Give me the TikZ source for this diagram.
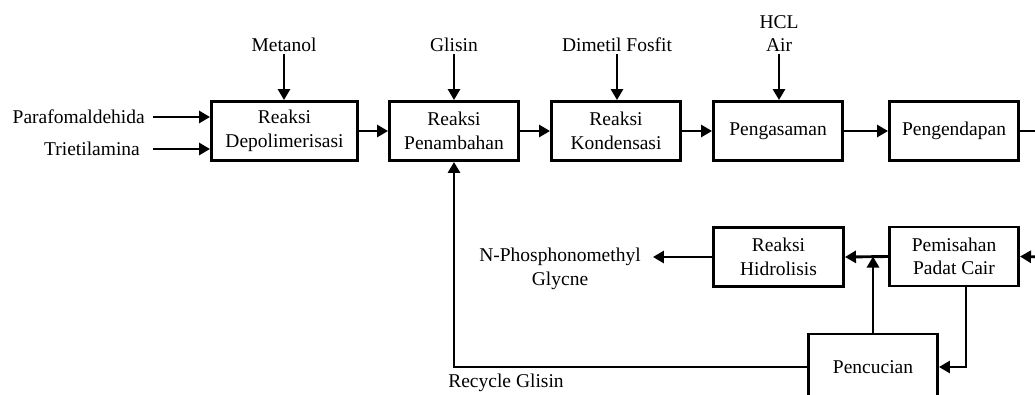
\documentclass[tikz,border=0pt]{standalone}
\usepackage{fontspec}
\setmainfont{Liberation Serif}
\usetikzlibrary{positioning, arrows.meta, calc}

\begin{document}
\begin{tikzpicture}[x=1pt, y=-1pt, font=\fontsize{19.5}{23.5}\selectfont,
  proc/.style={draw=black, line width=2.9pt, minimum width=129pt, minimum height=59pt, align=center, inner sep=2pt},
  arr/.style={-{Triangle[length=11pt, width=12pt]}, line width=2.9pt},
  ln/.style={line width=2.9pt},
  lbl/.style={align=center, inner sep=2pt}
]
  \useasboundingbox (0,0) rectangle (1035,394);

  % main line
  \node[proc, minimum width=146pt] (dep) at (284.5,131) {Reaksi\\Depolimerisasi};
  \node[proc] (pen) at (454,131) {Reaksi\\Penambahan};
  \node[proc] (kon) at (616,131) {Reaksi\\Kondensasi};
  \node[proc] (asam) at (778,131) {Pengasaman};
  \node[proc] (endap) at (954,131) {Pengendapan};

  % lower line
  \node[proc] (pisah) at (954,256.5) {Pemisahan\\Padat Cair};
  \node[proc, minimum width=130pt] (hidro) at (778.5,257) {Reaksi\\Hidrolisis};
  \node[proc, minimum height=66pt] (cuci) at (873,367) {Pencucian};

  % feeds
  \node[lbl] (metanol) at (284,45) {Metanol};
  \node[lbl] (glisin) at (454,45) {Glisin};
  \node[lbl] (dmf) at (617,45) {Dimetil Fosfit};
  \node[lbl] (hcl) at (779,33.5) {HCL\\Air};
  \node[lbl, anchor=east] (para) at (147,117) {Parafomaldehida};
  \node[lbl, anchor=east] (trie) at (142,149) {Trietilamina};
  \node[lbl] (prod) at (560,269) {N-Phosphonomethyl\\Glycne};
  \node[lbl] (recyc) at (506,383) {Recycle Glisin};

  \coordinate (outR) at (1045,131);
  \coordinate (inR) at (1045,257);

  \foreach \a/\b in {metanol/dep, glisin/pen, dmf/kon, hcl/asam}
    \draw[arr] (\a) -- (\a |- \b.north);
  \foreach \a/\b in {dep/pen, pen/kon, kon/asam, asam/endap}
    \draw[arr] (\a) -- (\b);

  \draw[arr] ([xshift=6pt]para.east) -- (para.east -| dep.west);
  \draw[arr] ([xshift=11pt]trie.east) -- (trie.east -| dep.west);

  \draw[ln] (endap) -- (outR);
  \draw[arr] (inR) -- (pisah.east);
  \draw[arr] (pisah.west) -- (hidro.east);
  \draw[arr] (hidro.west) -- ([xshift=10pt]hidro.west -| prod.east);
  \draw[arr] (cuci.north) -- (cuci.north |- pisah.west);
  \draw[arr] ([xshift=12pt]pisah.south) |- (cuci.east);
  \draw[arr] (cuci.west) -| (pen.south);
\end{tikzpicture}
\end{document}
